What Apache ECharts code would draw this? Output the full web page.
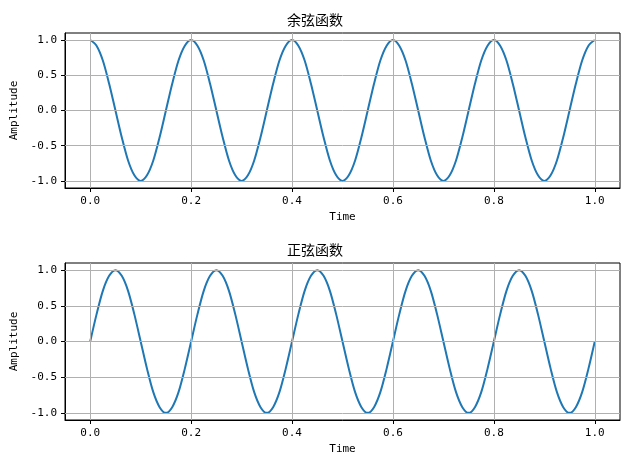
<!DOCTYPE html>
<html>
<head>
<meta charset="utf-8">
<script src="https://cdn.jsdelivr.net/npm/echarts@6/dist/echarts.min.js"></script>
<style>html,body{margin:0;background:#fff}#c{width:630px;height:470px}</style>
</head>
<body>
<div id="c"></div>
<script>
// 采样时间点 (步长 0.0125)
var time = [0, 0.0125, 0.025, 0.0375, 0.05, 0.0625, 0.075, 0.0875, 0.1, 0.1125, 0.125, 0.1375, 0.15, 0.1625, 0.175, 0.1875,
  0.2, 0.2125, 0.225, 0.2375, 0.25, 0.2625, 0.275, 0.2875, 0.3, 0.3125, 0.325, 0.3375, 0.35, 0.3625, 0.375, 0.3875,
  0.4, 0.4125, 0.425, 0.4375, 0.45, 0.4625, 0.475, 0.4875, 0.5, 0.5125, 0.525, 0.5375, 0.55, 0.5625, 0.575, 0.5875,
  0.6, 0.6125, 0.625, 0.6375, 0.65, 0.6625, 0.675, 0.6875, 0.7, 0.7125, 0.725, 0.7375, 0.75, 0.7625, 0.775, 0.7875,
  0.8, 0.8125, 0.825, 0.8375, 0.85, 0.8625, 0.875, 0.8875, 0.9, 0.9125, 0.925, 0.9375, 0.95, 0.9625, 0.975, 0.9875, 1];
var cosValues = [1, 0.92, 0.71, 0.38, 0, -0.38, -0.71, -0.92, -1, -0.92, -0.71, -0.38, 0, 0.38, 0.71, 0.92,
  1, 0.92, 0.71, 0.38, 0, -0.38, -0.71, -0.92, -1, -0.92, -0.71, -0.38, 0, 0.38, 0.71, 0.92,
  1, 0.92, 0.71, 0.38, 0, -0.38, -0.71, -0.92, -1, -0.92, -0.71, -0.38, 0, 0.38, 0.71, 0.92,
  1, 0.92, 0.71, 0.38, 0, -0.38, -0.71, -0.92, -1, -0.92, -0.71, -0.38, 0, 0.38, 0.71, 0.92,
  1, 0.92, 0.71, 0.38, 0, -0.38, -0.71, -0.92, -1, -0.92, -0.71, -0.38, 0, 0.38, 0.71, 0.92, 1];
var sinValues = [0, 0.38, 0.71, 0.92, 1, 0.92, 0.71, 0.38, 0, -0.38, -0.71, -0.92, -1, -0.92, -0.71, -0.38,
  0, 0.38, 0.71, 0.92, 1, 0.92, 0.71, 0.38, 0, -0.38, -0.71, -0.92, -1, -0.92, -0.71, -0.38,
  0, 0.38, 0.71, 0.92, 1, 0.92, 0.71, 0.38, 0, -0.38, -0.71, -0.92, -1, -0.92, -0.71, -0.38,
  0, 0.38, 0.71, 0.92, 1, 0.92, 0.71, 0.38, 0, -0.38, -0.71, -0.92, -1, -0.92, -0.71, -0.38,
  0, 0.38, 0.71, 0.92, 1, 0.92, 0.71, 0.38, 0, -0.38, -0.71, -0.92, -1, -0.92, -0.71, -0.38, 0];
var xTicks = [0, 0.2, 0.4, 0.6, 0.8, 1.0];
var yTicks = [-1, -0.5, 0, 0.5, 1];
var titles = ['余弦函数', '正弦函数'];

var font = '"DejaVu Sans Mono", "Noto Sans CJK SC", monospace';
var titleFont = '"Noto Sans CJK SC", sans-serif';
var myChart = echarts.init(document.getElementById('c'));

function pairs (ys) {
  return time.map(function (t, i) { return [t, ys[i]]; });
}

function gridLines () {
  var d = [];
  xTicks.forEach(function (v) { d.push({ xAxis: v }); });
  yTicks.forEach(function (v) { d.push({ yAxis: v }); });
  return d;
}

function xAxis (idx) {
  return {
    gridIndex: idx, type: 'value', min: -0.05, max: 1.05,
    name: 'Time', nameLocation: 'middle', nameGap: 24,
    nameTextStyle: { color: '#000', fontSize: 11, fontFamily: font },
    splitLine: { show: false },
    axisLine: { show: true, onZero: false, lineStyle: { color: '#000' } },
    axisTick: { show: true, customValues: xTicks, length: 4, lineStyle: { color: '#000' } },
    axisLabel: { customValues: xTicks, color: '#000', fontSize: 11, fontFamily: font, formatter: function (v) { return v.toFixed(1); } }
  };
}

function yAxis (idx) {
  return {
    gridIndex: idx, type: 'value', min: -1.1, max: 1.1,
    name: 'Amplitude', nameLocation: 'middle', nameGap: 44,
    nameTextStyle: { color: '#000', fontSize: 11, fontFamily: font },
    splitLine: { show: false },
    axisLine: { show: true, onZero: false, lineStyle: { color: '#000' } },
    axisTick: { show: true, customValues: yTicks, length: 4, lineStyle: { color: '#000' } },
    axisLabel: { customValues: yTicks, color: '#000', fontSize: 11, fontFamily: font, formatter: function (v) { return v.toFixed(1); } }
  };
}

function series (idx, ys) {
  return {
    type: 'line', xAxisIndex: idx, yAxisIndex: idx, data: pairs(ys),
    smooth: 0.3, showSymbol: false, lineStyle: { color: '#1f77b4', width: 2 },
    markLine: {
      silent: true, symbol: 'none', label: { show: false }, animation: false,
      lineStyle: { color: '#b0b0b0', type: 'solid', width: 1 },
      data: gridLines()
    }
  };
}

var option = {
  animation: false,
  title: [
    { text: titles[0], left: 'center', top: 8, textStyle: { fontSize: 14, fontWeight: 'normal', color: '#000', fontFamily: titleFont } },
    { text: titles[1], left: 'center', top: 238, textStyle: { fontSize: 14, fontWeight: 'normal', color: '#000', fontFamily: titleFont } }
  ],
  grid: [
    { left: 65, right: 10, top: 33, height: 155, show: true, borderColor: '#000', borderWidth: 1 },
    { left: 65, right: 10, top: 263, height: 157, show: true, borderColor: '#000', borderWidth: 1 }
  ],
  xAxis: [xAxis(0), xAxis(1)],
  yAxis: [yAxis(0), yAxis(1)],
  series: [series(0, cosValues), series(1, sinValues)]
};

myChart.setOption(option);
</script>
</body>
</html>
